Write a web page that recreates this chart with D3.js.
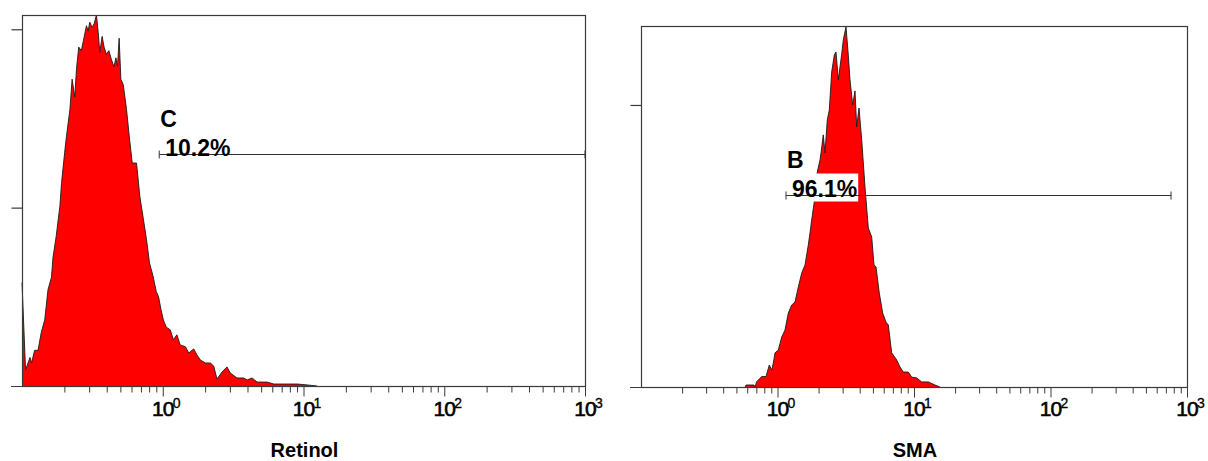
<!DOCTYPE html>
<html>
<head>
<meta charset="utf-8">
<script src="https://cdn.jsdelivr.net/npm/d3@7"></script>
<style>
body{margin:0;background:#fff;}
text{font-family:"Liberation Sans",Arial,sans-serif;fill:#000;}
</style>
</head>
<body>
<div id="container"></div>
<script>
let w = 1208;
let h = 461;

// histogram: intensity (log axis) and event count
let leftX = [0.100,0.106,0.114,0.117,0.123,0.130,0.137,0.145,0.153,0.162,
  0.166,0.175,0.186,0.191,0.201,0.207,0.219,0.227,0.237,0.244,
  0.253,0.264,0.272,0.287,0.295,0.303,0.315,0.325,0.338,0.348,
  0.357,0.371,0.383,0.398,0.414,0.432,0.450,0.465,0.477,0.490,
  0.504,0.524,0.553,0.578,0.607,0.651,0.688,0.727,0.767,0.805,
  0.851,0.899,0.934,0.971,1.01,1.06,1.13,1.19,1.26,1.33,
  1.45,1.53,1.66,1.75,1.85,2.01,2.18,2.30,2.43,2.64,
  2.86,3.02,3.37,3.76,3.98,4.31,4.68,5.52,6.15,7.24,
  9.02,10.6,12.5];
let leftCount = [58,9,16,13,20,20,30,37,54,61,
  72,84,101,114,131,140,155,172,162,178,
  190,188,193,202,199,204,201,203,208,198,
  187,196,190,186,188,183,179,184,179,195,
  172,169,155,140,125,125,106,94,82,69,
  62,53,50,43,37,33,31.5,26,28.7,23,
  22,18.5,20.8,17.4,14.6,12.9,12.9,11.2,3.9,7.9,
  10.7,7.3,4.5,4.5,3.4,4.5,2.2,2.2,1.1,1.1,
  1.1,0.6,0];

let rightX = [0.580,0.588,0.673,0.684,0.704,0.766,0.824,0.871,0.907,0.932,
  0.959,1.014,1.074,1.135,1.200,1.271,1.344,1.421,1.505,1.591,
  1.682,1.730,1.780,1.882,1.957,2.049,2.084,2.165,2.228,2.316,
  2.396,2.495,2.607,2.683,2.789,2.870,2.953,3.034,3.175,3.301,
  3.397,3.555,3.697,3.804,3.955,4.139,4.375,4.626,4.898,5.093,
  5.267,5.568,5.898,6.236,6.482,6.865,7.470,7.897,8.350,9.084,
  9.622,10.47,11.39,12.73,14.25,15.50];
let rightCount = [0,0.7,0.7,0,1.9,3.7,3.7,7.8,6.0,8.5,
  12.1,13.1,17.7,20.2,26.2,29.1,30.1,35.5,40.4,43.3,
  50.4,54.6,59.2,67.4,76.2,80.5,83.0,89.4,83.0,94.7,
  98.2,111.7,117.7,118.8,108.9,113.5,118,123.0,127.7,117.7,
  108.9,100.0,105,92.2,98.9,87.6,70.9,56.4,53.2,43.3,
  42.6,33.3,26.2,23.0,22.0,12.1,9.6,7.1,5.3,5.3,
  3.5,3.2,1.8,1.8,0.7,0];

let axisTitles = ["Retinol", "SMA"];
let yMax = [208, 128];
let yTicks = [[100, 200], [100]];
let decades = [1, 10, 100, 1000];
let decadeExp = ["0", "1", "2", "3"];

// gates (markers)
let gateNames = ["C", "B"];
let gatePct = ["10.2%", "96.1%"];
let gateFrom = [0.944, 1.154];
let gateTo = [1000, 764];
let gateLevel = [130, 68];

let minorTicks = [];
[0.1, 1, 10, 100].forEach(function(d){
  for (let k = 2; k <= 9; k++) { minorTicks.push(+(k * d).toPrecision(3)); }
});

let panels = [
  {x0: 22, x1: 585, y0: 15, y1: 386, xs: leftX, cs: leftCount},
  {x0: 641, x1: 1187, y0: 26, y1: 387, xs: rightX, cs: rightCount}
];

let viz = d3.select("#container").append("svg")
  .attr("width", w)
  .attr("height", h);

panels.forEach(function(p, i){
  let xScale = d3.scaleLog().domain([0.1, 1000]).range([p.x0, p.x1]);
  let yScale = d3.scaleLinear().domain([0, yMax[i]]).range([p.y1, p.y0]);
  let data = p.xs.map(function(v, j){ return {x: v, c: p.cs[j]}; });

  let g = viz.append("g");

  let area = d3.area()
    .x(function(d){ return xScale(d.x); })
    .y0(yScale(0))
    .y1(function(d){ return yScale(d.c); });
  let line = d3.line()
    .x(function(d){ return xScale(d.x); })
    .y(function(d){ return yScale(d.c); });

  g.append("path").datum(data).attr("d", area).attr("fill", "#ff0000");
  g.append("path").datum(data).attr("d", line)
    .attr("fill", "none").attr("stroke", "#1a1a1a").attr("stroke-width", 0.9);

  // frame
  g.append("rect")
    .attr("x", p.x0 + 0.5).attr("y", p.y0 + 0.5)
    .attr("width", p.x1 - p.x0).attr("height", p.y1 - p.y0)
    .attr("fill", "none").attr("stroke", "#3a3a3a").attr("stroke-width", 1.2);

  // baseline runs past the left edge
  g.append("line")
    .attr("x1", p.x0 - 11).attr("x2", p.x1 + 0.5)
    .attr("y1", p.y1 + 0.5).attr("y2", p.y1 + 0.5)
    .attr("stroke", "#3a3a3a").attr("stroke-width", 1.2);

  // y ticks (unlabelled)
  let yAxis = d3.axisLeft(yScale).tickValues(yTicks[i]).tickSize(11).tickFormat("");
  let yg = g.append("g").attr("transform", "translate(" + (p.x0 + 0.5) + ",0)").call(yAxis);
  yg.select(".domain").remove();
  yg.selectAll("line").attr("stroke", "#3a3a3a").attr("stroke-width", 1.2);

  // x ticks
  let minorAxis = d3.axisBottom(xScale).tickValues(minorTicks).tickSize(6).tickFormat("");
  let mg = g.append("g").attr("transform", "translate(0," + (p.y1 + 0.5) + ")").call(minorAxis);
  mg.select(".domain").remove();
  mg.selectAll("line").attr("stroke", "#3a3a3a");

  let majorAxis = d3.axisBottom(xScale).tickValues(decades).tickSize(10).tickFormat("");
  let jg = g.append("g").attr("transform", "translate(0," + (p.y1 + 0.5) + ")").call(majorAxis);
  jg.select(".domain").remove();
  jg.selectAll("line").attr("stroke", "#3a3a3a");

  decades.forEach(function(d, k){
    g.append("text")
      .attr("x", xScale(d)).attr("y", 416)
      .attr("text-anchor", "middle")
      .style("font-size", "21px")
      .style("letter-spacing", "-1px")
      .style("stroke", "#000").style("stroke-width", 0.6)
      .text("10");
    g.append("text")
      .attr("x", xScale(d) + 10).attr("y", 408)
      .style("font-size", "14px")
      .style("stroke", "#000").style("stroke-width", 0.3)
      .text(decadeExp[k]);
  });

  g.append("text")
    .attr("x", (p.x0 + p.x1) / 2 + 1).attr("y", 457)
    .attr("text-anchor", "middle")
    .style("font-size", "20px").style("font-weight", "bold")
    .text(axisTitles[i]);

  // gate
  let gx1 = xScale(gateFrom[i]);
  let gx2 = xScale(gateTo[i]);
  let gy = Math.round(yScale(gateLevel[i])) + 0.5;
  let box = g.append("rect").attr("fill", "#fff");
  g.append("line")
    .attr("x1", gx1).attr("x2", gx2).attr("y1", gy).attr("y2", gy)
    .attr("stroke", "#333").attr("stroke-width", 1);
  [gx1, gx2].forEach(function(xx){
    g.append("line")
      .attr("x1", xx).attr("x2", xx).attr("y1", gy - 4).attr("y2", gy + 4)
      .attr("stroke", "#333").attr("stroke-width", 1);
  });
  let pct = g.append("text")
    .attr("x", gx1 + 6).attr("y", gy + 1.5)
    .style("font-size", "23px").style("font-weight", "bold")
    .text(gatePct[i]);
  let bb = pct.node().getBBox();
  box.attr("x", gx1 + 3).attr("y", gy - 22)
    .attr("width", bb.width + 4).attr("height", 28);
  g.append("text")
    .attr("x", gx1 + 1).attr("y", gy - 28)
    .style("font-size", "23px").style("font-weight", "bold")
    .text(gateNames[i]);
});
</script>
</body>
</html>
